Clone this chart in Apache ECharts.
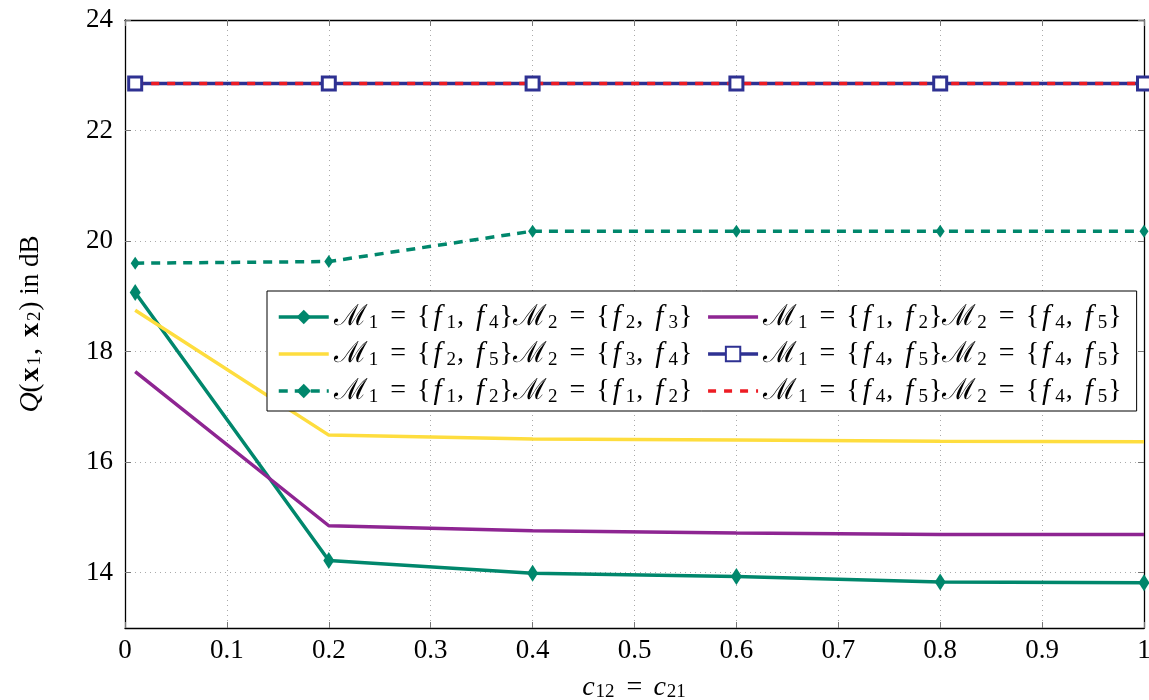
<!DOCTYPE html>
<html>
<head>
<meta charset="utf-8">
<script src="https://cdn.jsdelivr.net/npm/echarts@6/dist/echarts.min.js"></script>
<style>
  html, body { margin: 0; padding: 0; background: #fff; }
  #chart { width: 1149px; height: 700px; }
</style>
</head>
<body>
<div id="chart"></div>
<script>
// x positions (c12 = c21)
const xValues = [0.01, 0.2, 0.4, 0.6, 0.8, 1];
const yTicks = [14, 16, 18, 20, 22, 24];

// Q(x1, x2) in dB, one array per curve
const s14_23 = [19.07, 14.22, 13.99, 13.93, 13.83, 13.82];
const s25_34 = [18.75, 16.49, 16.42, 16.40, 16.38, 16.37];
const s12_12 = [19.60, 19.63, 20.18, 20.18, 20.18, 20.18];
const s12_45 = [17.64, 14.85, 14.76, 14.72, 14.69, 14.69];
const s45_45a = [22.85, 22.85, 22.85, 22.85, 22.85, 22.85];
const s45_45b = [22.85, 22.85, 22.85, 22.85, 22.85, 22.85];

// legend sets: [M1 indices, M2 indices]
const sets = {
  s1: [[1, 4], [2, 3]],
  s2: [[2, 5], [3, 4]],
  s3: [[1, 2], [1, 2]],
  s4: [[1, 2], [4, 5]],
  s5: [[4, 5], [4, 5]],
  s6: [[4, 5], [4, 5]]
};

const SERIF = "'Liberation Serif', 'DejaVu Serif', serif";
const TEAL = '#00876c', YELLOW = '#fedd3e', PURPLE = '#8e2592', BLUE = '#2e3192', RED = '#ed1c24';

const setText = (m, s) =>
  '{m|ℳ}{s|' + m + '}{e|=}{{i|f}{s|' + s[0] + '}{c|,}{i|f}{s|' + s[1] + '}}';
const legendLabel = name => setText(1, sets[name][0]) + setText(2, sets[name][1]) + '{z| }';

const rich = {
  m: { fontFamily: "'DejaVu Serif', serif", fontSize: 29, color: '#000' },
  i: { fontFamily: SERIF, fontStyle: 'italic', fontSize: 29, color: '#000', padding: [0, 4, 0, 3] },
  v: { fontFamily: SERIF, fontStyle: 'italic', fontSize: 28, color: '#000' },
  b: { fontFamily: SERIF, fontWeight: 'bold', fontSize: 28, color: '#000', padding: [0, 1, 0, 2] },
  s: { fontFamily: SERIF, fontSize: 19, color: '#000', verticalAlign: 'bottom', lineHeight: 18, padding: [0, 1, 0, 1] },
  e: { fontFamily: SERIF, fontSize: 28, color: '#000', padding: [0, 11, 0, 11] },
  c: { fontFamily: SERIF, fontSize: 28, color: '#000', padding: [0, 9, 0, 0] },
  z: { fontSize: 10, width: 9 }
};

const pairs = arr => xValues.map((x, k) => [x, arr[k]]);

const chart = echarts.init(document.getElementById('chart'), null, { renderer: 'canvas' });

const tickStyle = { inside: true, length: 6, lineStyle: { color: '#777', width: 1 } };
const splitStyle = { show: true, lineStyle: { color: '#aaa', type: [1, 4], width: 1 } };
const axisLine = { show: true, onZero: false, lineStyle: { color: '#000', width: 1.3 } };
const hideSymbol = { opacity: 0 };

chart.setOption({
  animation: false,
  backgroundColor: '#fff',
  grid: { left: 125, right: 5, top: 20, bottom: 72, outerBoundsMode: 'none', containLabel: false },
  xAxis: [{
    type: 'value', min: 0, max: 1, interval: 0.1,
    name: '{v|c}{s|12}{e|=}{v|c}{s|21}',
    nameLocation: 'middle', nameGap: 46,
    nameTextStyle: { fontFamily: SERIF, fontSize: 27, color: '#000', rich: rich },
    axisLine: axisLine, axisTick: tickStyle, splitLine: splitStyle,
    axisLabel: {
      fontFamily: SERIF, fontSize: 27, color: '#000', margin: 9,
      formatter: v => (v === 0 || v === 1) ? String(v) : v.toFixed(1)
    }
  }, {
    type: 'value', position: 'top', min: 0, max: 1, interval: 0.1,
    axisLine: axisLine, axisTick: tickStyle, axisLabel: { show: false }, splitLine: { show: false }
  }],
  yAxis: [{
    type: 'value', min: 13, max: 24,
    name: '{v|Q}({b|x}{s|1}{c|,}{b|x}{s|2}) in dB',
    nameLocation: 'middle', nameGap: 80,
    nameTextStyle: { fontFamily: SERIF, fontSize: 27, color: '#000', rich: rich },
    axisLine: axisLine,
    axisTick: Object.assign({ customValues: yTicks }, tickStyle),
    splitLine: splitStyle,
    axisLabel: { customValues: yTicks, fontFamily: SERIF, fontSize: 27, color: '#000', margin: 12 }
  }, {
    type: 'value', position: 'right', min: 13, max: 24,
    axisLine: axisLine,
    axisTick: Object.assign({ customValues: yTicks }, tickStyle),
    axisLabel: { show: false }, splitLine: { show: false }
  }],
  legend: {
    orient: 'vertical', left: 267, top: 291, height: 108,
    padding: [10, 6, 4, 10], itemGap: 5,
    itemWidth: 50, itemHeight: 18,
    borderColor: '#000', borderWidth: 1, backgroundColor: '#fff',
    lineStyle: { width: 'inherit' },
    data: [
      { name: 's1' },
      { name: 's2', itemStyle: hideSymbol },
      { name: 's3' },
      { name: 's4', itemStyle: hideSymbol },
      { name: 's5' },
      { name: 's6', itemStyle: hideSymbol }
    ],
    formatter: legendLabel,
    textStyle: { fontFamily: SERIF, fontSize: 28, color: '#000', lineHeight: 32, rich: rich }
  },
  series: [
    {
      name: 's1', type: 'line', data: pairs(s14_23), symbol: 'diamond', symbolSize: [11, 17],
      lineStyle: { color: TEAL, width: 3.5 }, itemStyle: { color: TEAL }
    },
    {
      name: 's2', type: 'line', data: pairs(s25_34), symbol: 'none',
      lineStyle: { color: YELLOW, width: 3.5 }, itemStyle: { color: YELLOW }
    },
    {
      name: 's3', type: 'line', data: pairs(s12_12), symbol: 'diamond', symbolSize: [9, 13],
      lineStyle: { color: TEAL, width: 3.5, type: [9, 7] }, itemStyle: { color: TEAL }
    },
    {
      name: 's4', type: 'line', data: pairs(s12_45), symbol: 'none',
      lineStyle: { color: PURPLE, width: 3.5 }, itemStyle: { color: PURPLE }
    },
    {
      name: 's5', type: 'line', data: pairs(s45_45a), symbol: 'rect', symbolSize: 13,
      lineStyle: { color: BLUE, width: 3.5 },
      itemStyle: { color: '#fff', borderColor: BLUE, borderWidth: 3 }
    },
    {
      name: 's6', type: 'line', data: pairs(s45_45b), symbol: 'none',
      lineStyle: { color: RED, width: 3.5, type: [8, 8] }, itemStyle: { color: RED }
    }
  ]
});
</script>
</body>
</html>
